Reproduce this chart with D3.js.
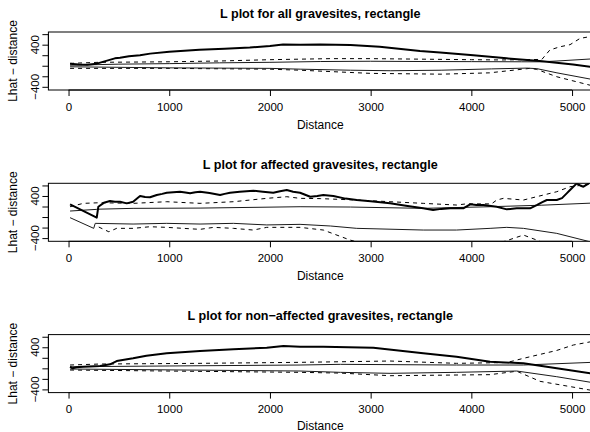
<!DOCTYPE html>
<html>
<head>
<meta charset="utf-8">
<script src="https://cdn.jsdelivr.net/npm/d3@7/dist/d3.min.js"></script>
<style>
  body { margin: 0; background: #fff; }
  svg { display: block; font-family: "Liberation Sans", Arial, Helvetica, sans-serif; }
</style>
</head>
<body>
<div id="chart"></div>
<script>
// axis setup
var xTicks = [0, 1000, 2000, 3000, 4000, 5000];
var yTicks = [-400, -200, 0, 200, 400, 600];
var yLabelTicks = [-400, 400];
var xLim = [0, 5000];
var yLim = [-420, 600];

var titles = [
  "L plot for all gravesites, rectangle",
  "L plot for affected gravesites, rectangle",
  "L plot for non\u2212affected gravesites, rectangle"
];

// all gravesites: [distance, Lhat - distance]
var allObs = [[15,40],[100,25],[185,20],[280,40],[460,140],[511,150],[600,180],[710,200],[810,230],[1000,265],[1300,305],[1550,325],[1800,345],[2000,375],[2130,405],[2300,398],[2500,405],[2800,395],[3090,360],[3490,280],[3690,250],[4020,200],[4350,140],[4680,90],[5010,25],[5200,-25]];
var allHiSolid = [[15,10],[500,30],[1000,40],[1500,55],[2000,65],[2500,80],[3000,85],[3500,80],[4000,78],[4500,75],[4700,75],[4850,90],[5200,130]];
var allLoSolid = [[15,-20],[500,-30],[1000,-40],[2000,-50],[2300,-65],[2800,-85],[3200,-95],[3700,-85],[4200,-60],[4550,-45],[4650,-55],[4850,-135],[5200,-260]];
var allHiDash = [[15,45],[300,65],[1000,75],[1500,90],[2000,115],[2300,125],[2600,135],[3000,135],[3500,125],[4000,115],[4300,110],[4700,120],[4780,300],[4880,360],[4980,400],[5080,520],[5200,560]];
var allLoDash = [[15,-50],[500,-50],[1000,-50],[2000,-65],[2300,-85],[3000,-145],[3700,-160],[4180,-135],[4580,-50],[4650,-70],[4850,-210],[5200,-380]];

// affected gravesites
var affObs = [[15,241],[280,-12],[296,196],[350,270],[412,304],[460,290],[511,291],[578,260],[641,291],[710,400],[760,380],[809,375],[876,418],[930,440],[975,462],[1040,470],[1107,481],[1160,465],[1207,450],[1260,470],[1306,481],[1400,455],[1505,418],[1550,440],[1604,462],[1700,480],[1835,500],[1930,480],[2033,462],[2100,490],[2167,513],[2230,480],[2299,462],[2400,386],[2470,400],[2530,418],[2630,400],[2750,350],[2862,323],[3000,300],[3193,260],[3350,215],[3522,165],[3620,133],[3700,155],[3790,165],[3920,165],[3988,241],[4050,230],[4120,228],[4252,196],[4352,146],[4451,165],[4583,165],[4649,228],[4700,280],[4749,323],[4848,323],[4900,360],[4947,450],[4980,513],[5047,640],[5080,600],[5113,576],[5150,620],[5200,700]];
var affHiSolid = [[15,114],[280,146],[313,150],[641,165],[1306,170],[2299,196],[2800,190],[3522,165],[4186,196],[4700,225],[5200,265]];
var affLoSolid = [[15,-12],[250,-215],[265,-120],[641,-133],[975,-120],[1306,-133],[1637,-120],[1968,-150],[2299,-139],[2600,-170],[2862,-215],[3522,-247],[3853,-247],[4186,-215],[4352,-196],[4517,-215],[4848,-310],[5200,-480]];
var affHiDash = [[15,196],[147,260],[313,272],[641,260],[975,291],[1306,260],[1637,291],[1968,355],[2167,386],[2299,355],[2500,350],[2862,323],[3193,291],[3522,260],[3853,228],[3950,250],[4200,250],[4252,323],[4318,355],[4517,323],[4715,418],[4848,481],[4980,576],[5113,608],[5200,640]];
var affLoDash = [[300,-190],[400,-280],[478,-215],[641,-215],[809,-184],[975,-196],[1140,-215],[1306,-234],[1440,-196],[1637,-215],[1835,-247],[1968,-196],[2299,-196],[2530,-247],[2796,-437],[2950,-520],[3500,-560],[4000,-540],[4250,-480],[4318,-469],[4517,-342],[4649,-437],[4750,-520],[5200,-600]];

// non-affected gravesites
var nonObs = [[15,30],[40,0],[80,20],[145,30],[313,44],[412,76],[478,139],[641,190],[773,240],[975,285],[1306,329],[1637,361],[1968,392],[2134,424],[2299,411],[2530,411],[3027,392],[3522,285],[3853,220],[4186,125],[4517,95],[4848,0],[5200,-100]];
var nonHiSolid = [[15,30],[1000,45],[2299,63],[2700,76],[3853,63],[4517,63],[5200,114]];
var nonLoSolid = [[15,-13],[2299,-51],[2700,-76],[3193,-95],[3853,-76],[4451,-51],[4848,-159],[5200,-270]];
var nonHiDash = [[15,63],[313,82],[1306,95],[2299,114],[3193,139],[3853,95],[4352,110],[4517,190],[4848,340],[5013,443],[5200,510]];
var nonLoDash = [[15,-32],[975,-51],[2299,-76],[2700,-90],[3193,-140],[4186,-120],[4451,-55],[4682,-247],[5200,-420]];

var panels = [
  { title: titles[0], obs: allObs, hi: allHiSolid, lo: allLoSolid, hiD: allHiDash, loD: allLoDash },
  { title: titles[1], obs: affObs, hi: affHiSolid, lo: affLoSolid, hiD: affHiDash, loD: affLoDash },
  { title: titles[2], obs: nonObs, hi: nonHiSolid, lo: nonLoSolid, hiD: nonHiDash, loD: nonLoDash }
];

var width = 590, height = 432;
var panelTops = [32, 183.3, 334.6];
var plotH = 58;

// R style 4% extension of the axis limits
function pad(lim) {
  var d = (lim[1] - lim[0]) * 0.04;
  return [lim[0] - d, lim[1] + d];
}

var xScale = d3.scaleLinear().domain(pad(xLim)).range([48.4, 592.2]);

var svg = d3.select("#chart").append("svg")
  .attr("width", width)
  .attr("height", height);

panels.forEach(function(p, i) {
  var top = panelTops[i], bottom = top + plotH;
  var yScale = d3.scaleLinear().domain(pad(yLim)).range([bottom, top]);
  var g = svg.append("g");

  g.append("defs").append("clipPath")
    .attr("id", "clip" + i)
    .append("rect")
    .attr("x", xScale.range()[0])
    .attr("y", top)
    .attr("width", xScale.range()[1] - xScale.range()[0])
    .attr("height", plotH);

  var line = d3.line()
    .x(function(d) { return xScale(d[0]); })
    .y(function(d) { return yScale(d[1]); });

  var lines = g.append("g").attr("clip-path", "url(#clip" + i + ")");
  [p.hiD, p.loD].forEach(function(s) {
    lines.append("path").datum(s)
      .attr("d", line)
      .attr("fill", "none")
      .attr("stroke", "#000")
      .attr("stroke-width", 1)
      .attr("stroke-dasharray", "4,4");
  });
  [p.hi, p.lo].forEach(function(s) {
    lines.append("path").datum(s)
      .attr("d", line)
      .attr("fill", "none")
      .attr("stroke", "#1a1a1a")
      .attr("stroke-width", 1);
  });
  lines.append("path").datum(p.obs)
    .attr("d", line)
    .attr("fill", "none")
    .attr("stroke", "#000")
    .attr("stroke-width", 2)
    .attr("stroke-linejoin", "round");

  // box
  g.append("rect")
    .attr("x", xScale.range()[0])
    .attr("y", top)
    .attr("width", xScale.range()[1] - xScale.range()[0])
    .attr("height", plotH)
    .attr("fill", "none")
    .attr("stroke", "#000")
    .attr("stroke-width", 1);

  // x axis
  var xAxis = d3.axisBottom(xScale)
    .tickValues(xTicks)
    .tickSize(6)
    .tickPadding(3)
    .tickFormat(d3.format("d"));
  var xa = g.append("g")
    .attr("transform", "translate(0," + bottom + ")")
    .call(xAxis);
  xa.select(".domain").attr("d", "M" + xScale(0) + ",0H" + xScale(5000));
  xa.selectAll("text").attr("font-size", 11.5).attr("font-family", "Liberation Sans, Arial, sans-serif")
    .attr("fill", "#000").attr("dy", null).attr("y", 20.5);
  xa.selectAll("line").attr("stroke", "#000");
  xa.select(".domain").attr("stroke", "#000");

  // y axis
  var yAxis = d3.axisLeft(yScale)
    .tickValues(yTicks)
    .tickSize(6)
    .tickFormat("");
  var ya = g.append("g")
    .attr("transform", "translate(" + xScale.range()[0] + ",0)")
    .call(yAxis);
  ya.select(".domain").attr("d", "M0," + yScale(-400) + "V" + yScale(600)).attr("stroke", "#000");
  ya.selectAll("line").attr("stroke", "#000");

  g.selectAll(".ylab").data(yLabelTicks).enter().append("text")
    .attr("transform", function(d) { return "translate(38.5," + yScale(d) + ") rotate(-90)"; })
    .attr("text-anchor", "middle")
    .attr("font-size", 11.5)
    .text(function(d) { return d < 0 ? "\u2212" + Math.abs(d) : d; });

  g.append("text")
    .attr("transform", "translate(17," + (top + plotH / 2) + ") rotate(-90)")
    .attr("text-anchor", "middle")
    .attr("font-size", 12)
    .text("Lhat \u2212 distance");

  g.append("text")
    .attr("x", (xScale.range()[0] + xScale.range()[1]) / 2)
    .attr("y", Math.min(bottom + 38.5, 429.5))
    .attr("text-anchor", "middle")
    .attr("font-size", 12)
    .text("Distance");

  g.append("text")
    .attr("x", (xScale.range()[0] + xScale.range()[1]) / 2)
    .attr("y", top - 14.5)
    .attr("text-anchor", "middle")
    .attr("font-size", 12.6)
    .attr("font-weight", "bold")
    .text(p.title);
});
</script>
</body>
</html>
